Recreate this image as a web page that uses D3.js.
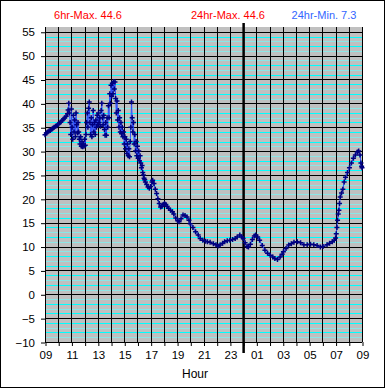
<!DOCTYPE html>
<html>
<head>
<meta charset="utf-8">
<script src="https://cdn.jsdelivr.net/npm/d3@7"></script>
<style>
  body { margin: 0; background: #fff; }
  text { font-family: "Liberation Sans", Arial, sans-serif; }
</style>
</head>
<body>
<svg id="chart"></svg>
<script>
// hours since 09:00
var hours = [
  0.00, 0.10, 0.20, 0.30, 0.40, 0.50, 0.60, 0.70, 0.80, 0.90,
  1.00, 1.10, 1.20, 1.30, 1.40, 1.50, 1.60, 1.70, 1.75, 1.80,
  1.85, 1.90, 1.95, 2.00, 2.05, 2.10, 2.15, 2.20, 2.25, 2.30,
  2.35, 2.40, 2.45, 2.50, 2.55, 2.60, 2.65, 2.70, 2.75, 2.80,
  2.85, 2.90, 2.95, 3.00, 3.05, 3.10, 3.15, 3.20, 3.25, 3.30,
  3.35, 3.40, 3.45, 3.50, 3.55, 3.60, 3.65, 3.70, 3.75, 3.80,
  3.85, 3.90, 3.95, 4.00, 4.05, 4.10, 4.15, 4.20, 4.25, 4.30,
  4.35, 4.40, 4.45, 4.50, 4.55, 4.60, 4.65, 4.70, 4.75, 4.80,
  4.85, 4.90, 4.95, 5.00, 5.05, 5.10, 5.15, 5.20, 5.25, 5.30,
  5.35, 5.40, 5.45, 5.50, 5.55, 5.60, 5.65, 5.70, 5.75, 5.80,
  5.85, 5.90, 5.95, 6.00, 6.05, 6.10, 6.15, 6.20, 6.25, 6.30,
  6.35, 6.40, 6.45, 6.50, 6.55, 6.60, 6.65, 6.70, 6.75, 6.80,
  6.85, 6.90, 6.95, 7.00, 7.05, 7.10, 7.15, 7.20, 7.25, 7.30,
  7.35, 7.40, 7.45, 7.50, 7.55, 7.60, 7.70, 7.80, 7.90, 8.00,
  8.10, 8.15, 8.25, 8.35, 8.45, 8.55, 8.65, 8.75, 8.85, 8.95,
  9.05, 9.15, 9.25, 9.35, 9.50, 9.65, 9.75, 9.90, 10.05, 10.15,
  10.30, 10.45, 10.60, 10.75, 10.90, 11.00, 11.20, 11.40, 11.60, 11.75,
  11.95, 12.15, 12.30, 12.50, 12.75, 12.95, 13.10, 13.25, 13.45, 13.60,
  13.80, 14.00, 14.20, 14.40, 14.55, 14.75, 14.90, 15.00, 15.15, 15.30,
  15.40, 15.55, 15.70, 15.85, 15.95, 16.10, 16.25, 16.45, 16.65, 16.85,
  17.05, 17.25, 17.40, 17.60, 17.80, 17.95, 18.05, 18.25, 18.45, 18.65,
  18.85, 19.10, 19.35, 19.60, 19.85, 20.10, 20.35, 20.60, 20.85, 21.05,
  21.35, 21.55, 21.75, 21.90, 22.00, 22.05, 22.10, 22.15, 22.20, 22.25,
  22.30, 22.35, 22.45, 22.55, 22.65, 22.75, 22.90, 23.05, 23.20, 23.35,
  23.50, 23.65, 23.75, 23.85, 23.92, 23.97, 24.00
];

var temps = [
  33.4, 33.8, 34.0, 34.2, 34.3, 34.6, 34.8, 35.0, 35.2, 35.3,
  35.6, 35.9, 36.1, 36.4, 36.7, 37.0, 37.3, 37.8, 38.6, 40.0,
  38.0, 36.0, 33.5, 38.8, 35.0, 32.5, 37.5, 34.0, 36.5, 33.0,
  38.0, 35.5, 33.8, 36.0, 34.0, 32.5, 31.5, 33.0, 31.0, 32.0,
  30.9, 31.5, 31.0, 32.5, 31.2, 33.5, 36.0, 38.0, 35.0, 39.0,
  40.3, 36.0, 33.5, 37.0, 33.0, 35.5, 38.5, 34.0, 36.0, 33.5,
  36.5, 35.0, 37.5, 35.5, 38.0, 36.0, 37.0, 35.2, 38.5, 40.0,
  37.0, 35.5, 37.5, 34.5, 33.3, 36.0, 33.3, 37.0, 35.0, 39.5,
  37.0, 42.0, 40.0, 43.8, 41.5, 44.2, 42.0, 44.6, 43.0, 44.5,
  41.0, 38.0, 40.5, 36.5, 38.5, 35.0, 37.0, 34.0, 36.0, 33.7,
  35.0, 33.0, 34.0, 31.5, 33.0, 30.5, 32.5, 29.5, 31.5, 29.0,
  30.5, 28.8, 32.0, 35.0, 40.3, 37.0, 34.0, 36.0, 31.5, 33.5,
  30.0, 32.0, 29.0, 31.0, 28.5, 30.0, 28.0, 29.0, 27.5, 26.5,
  27.0, 25.5, 25.0, 24.3, 24.0, 23.5, 23.0, 22.5, 22.2, 22.6,
  23.5, 23.9, 23.2, 22.0, 21.1, 20.0, 19.0, 18.3, 18.4, 18.8,
  19.0, 18.8, 18.4, 18.0, 17.6, 17.3, 16.8, 16.0, 15.4, 15.2,
  15.8, 16.6, 16.5, 16.2, 15.5, 14.8, 14.0, 13.1, 12.4, 11.7,
  11.3, 11.1, 11.0, 10.9, 10.6, 10.4, 10.1, 10.3, 10.7, 11.0,
  11.2, 11.3, 11.5, 11.7, 12.0, 12.4, 12.0, 11.7, 10.8, 10.0,
  9.9, 10.5, 11.5, 12.2, 12.4, 12.0, 11.3, 10.2, 9.2, 8.6,
  8.2, 7.8, 7.5, 7.3, 7.8, 8.4, 8.9, 9.6, 10.3, 10.6,
  10.9, 11.0, 10.8, 10.4, 10.4, 10.5, 10.4, 10.2, 9.9, 10.0,
  10.4, 10.7, 11.0, 11.3, 11.8, 12.7, 14.0, 15.5, 16.8, 17.6,
  19.0, 20.4, 21.2, 22.0, 23.5, 24.5, 25.5, 26.5, 27.5, 28.5,
  29.2, 29.8, 30.0, 29.2, 27.5, 26.8, 26.5
];

var hourLabels = ["09", "11", "13", "15", "17", "19", "21", "23", "01", "03", "05", "07", "09"];
var yTicks = [-10, -5, 0, 5, 10, 15, 20, 25, 30, 35, 40, 45, 50, 55];
var headerTexts = ["6hr-Max. 44.6", "24hr-Max. 44.6", "24hr-Min. 7.3"];

var width = 385,
    height = 388,
    plot = {left: 45, right: 362, top: 27, bottom: 342};

var svg = d3.select("#chart")
    .attr("width", width)
    .attr("height", height);

// outer frame
svg.append("rect")
    .attr("x", 0.5).attr("y", 0.5)
    .attr("width", width - 1).attr("height", height - 1)
    .attr("fill", "#fff")
    .attr("stroke", "#000");

let x = d3.scaleLinear()
    .domain([0, 24])
    .range([plot.left, plot.right]);

let y = d3.scaleLinear()
    .domain([-10, 56])
    .range([plot.bottom, plot.top]);

// plot background
svg.append("rect")
    .attr("x", plot.left).attr("y", plot.top)
    .attr("width", plot.right - plot.left)
    .attr("height", plot.bottom - plot.top)
    .attr("fill", "#c0c0c0");

// minor grid (every degree), alternating bright / pale cyan
svg.append("g")
    .selectAll("line")
    .data(d3.range(-9, 56).filter(d => d % 5 !== 0))
    .join("line")
    .attr("x1", plot.left).attr("x2", plot.right)
    .attr("y1", d => Math.round(y(d)) + 0.5)
    .attr("y2", d => Math.round(y(d)) + 0.5)
    .attr("stroke", d => Math.abs(d) % 2 === 0 ? "#00ffff" : "#8ee6e6")
    .attr("stroke-width", 1);

// major horizontal grid
svg.append("g")
    .selectAll("line")
    .data(yTicks)
    .join("line")
    .attr("x1", plot.left).attr("x2", plot.right)
    .attr("y1", d => Math.round(y(d)) + 0.5)
    .attr("y2", d => Math.round(y(d)) + 0.5)
    .attr("stroke", "#000");

// vertical grid (every hour)
svg.append("g")
    .selectAll("line")
    .data(d3.range(0, 25))
    .join("line")
    .attr("x1", d => Math.round(x(d)) + 0.5)
    .attr("x2", d => Math.round(x(d)) + 0.5)
    .attr("y1", plot.top).attr("y2", plot.bottom)
    .attr("stroke", "#000");

// axes
let xAxis = d3.axisBottom(x)
    .tickValues(d3.range(0, 25))
    .tickFormat(d => d % 2 === 0 ? hourLabels[d / 2] : "")
    .tickSize(4)
    .tickSizeOuter(0)
    .tickPadding(5);

let yAxis = d3.axisLeft(y)
    .tickValues(yTicks)
    .tickSize(4)
    .tickSizeOuter(0)
    .tickPadding(6);

let gx = svg.append("g")
    .attr("transform", `translate(0.5, ${plot.bottom})`)
    .call(xAxis);

let gy = svg.append("g")
    .attr("transform", `translate(${plot.left}, 0.5)`)
    .call(yAxis);

for (let g of [gx, gy]) {
    g.select(".domain").remove();
    g.selectAll("line").attr("stroke", "#000");
    g.selectAll("text")
        .attr("fill", "#000")
        .style("font-size", "11.5px");
}

// midnight marker
svg.append("line")
    .attr("x1", x(15) + 0.5).attr("x2", x(15) + 0.5)
    .attr("y1", 23).attr("y2", 353)
    .attr("stroke", "#000")
    .attr("stroke-width", 2.5);

// data
let points = hours.map((h, i) => ({h: h, v: temps[i]}));

svg.append("path")
    .datum(points)
    .attr("fill", "none")
    .attr("stroke", "#3050ff")
    .attr("stroke-width", 1)
    .attr("d", d3.line().x(d => x(d.h)).y(d => y(d.v)));

svg.append("g")
    .selectAll("path")
    .data(points)
    .join("path")
    .attr("transform", d => `translate(${x(d.h)}, ${y(d.v)})`)
    .attr("d", "M-2.5,0H2.5M0,-2.5V2.5")
    .attr("stroke", "#000080")
    .attr("stroke-width", 1.5)
    .attr("fill", "none");

// header
let headerX = [88, 228, 324];
let headerColors = ["#ff0000", "#ff0000", "#3366ff"];
svg.append("g")
    .selectAll("text")
    .data(headerTexts)
    .join("text")
    .attr("x", (d, i) => headerX[i])
    .attr("y", 19)
    .attr("text-anchor", "middle")
    .attr("fill", (d, i) => headerColors[i])
    .style("font-size", "11px")
    .text(d => d);

// x axis label
svg.append("text")
    .attr("x", 195)
    .attr("y", 378)
    .attr("text-anchor", "middle")
    .style("font-size", "12px")
    .text("Hour");
</script>
</body>
</html>
